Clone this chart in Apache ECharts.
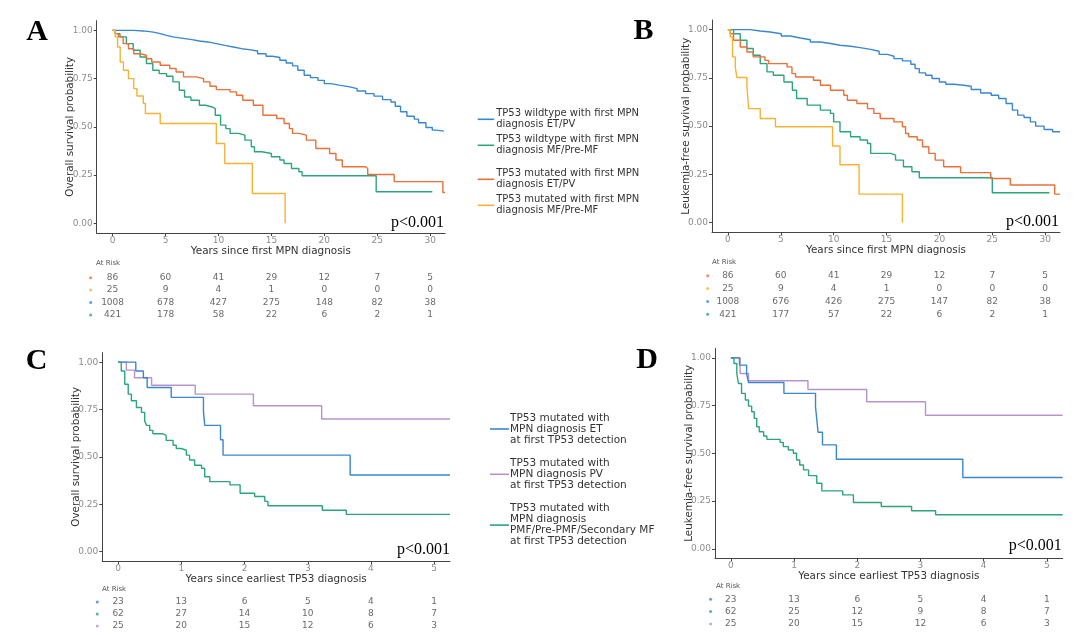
<!DOCTYPE html>
<html>
<head>
<meta charset="utf-8">
<title>TP53 survival</title>
<script src="https://cdn.jsdelivr.net/npm/echarts@6.0.0/dist/echarts.min.js"></script>
<style>
  html, body { margin: 0; padding: 0; background: #fff; }
  #chart { width: 1080px; height: 635px; }
</style>
</head>
<body>
<div id="chart"></div>
<script>
// 颜色
const BLUE = '#3a87cf', GREEN = '#2da57b', ORANGE = '#e8703a', YELLOW = '#f6b233', PURPLE = '#b793cc';
const SANS = 'DejaVu Sans';
const SERIF = 'Liberation Serif';

// 图例名称 (A/B)
const NAME_WT_ETPV = 'TP53 wildtype with first MPN\ndiagnosis ET/PV';
const NAME_WT_MF = 'TP53 wildtype with first MPN\ndiagnosis MF/Pre-MF';
const NAME_MUT_ETPV = 'TP53 mutated with first MPN\ndiagnosis ET/PV';
const NAME_MUT_MF = 'TP53 mutated with first MPN\ndiagnosis MF/Pre-MF';
// 图例名称 (C/D)
const NAME_ET = 'TP53 mutated with\nMPN diagnosis ET\nat first TP53 detection';
const NAME_PV = 'TP53 mutated with\nMPN diagnosis PV\nat first TP53 detection';
const NAME_MF = 'TP53 mutated with\nMPN diagnosis\nPMF/Pre-PMF/Secondary MF\nat first TP53 detection';

// 刻度
const yTicks = [0, 0.25, 0.5, 0.75, 1];
const xTicksAB = [0, 5, 10, 15, 20, 25, 30];
const xTicksCD = [0, 1, 2, 3, 4, 5];

// --- A: overall survival, first MPN diagnosis ---
const A_wtEtPv = [[0,1],[2,0.997],[2.9,0.991],[3.85,0.983],[4.5,0.974],[5.1,0.966],[5.7,0.96],[6.5,0.952],[7.5,0.945],[8.2,0.94],[9,0.931],[9.8,0.922],[10.6,0.914],[11.4,0.905],[12.2,0.9],[12.9,0.893],[13.7,0.879],[14.5,0.866],[15.1,0.859],[15.8,0.845],[16.4,0.831],[17,0.816],[17.5,0.793],[18.1,0.767],[18.7,0.755],[19.4,0.741],[20,0.724],[20.6,0.716],[21.4,0.707],[22.4,0.698],[23.1,0.686],[23.9,0.672],[24.7,0.659],[25.5,0.641],[26.3,0.629],[26.7,0.607],[27.2,0.578],[27.8,0.555],[28.5,0.54],[28.9,0.521],[29.6,0.497],[30.2,0.483],[30.6,0.478],[31.3,0.478]];
const A_wtMf = [[0,1],[0.25,0.983],[0.7,0.966],[1.3,0.931],[1.95,0.897],[2.6,0.862],[3.2,0.828],[3.8,0.793],[4.4,0.776],[5.1,0.762],[5.7,0.733],[6.3,0.69],[6.8,0.655],[7.4,0.638],[8.2,0.612],[8.8,0.603],[9.4,0.595],[9.7,0.56],[10.2,0.509],[10.7,0.491],[11.1,0.466],[11.9,0.457],[12.5,0.431],[13.1,0.397],[13.4,0.371],[14.1,0.362],[15,0.345],[15.8,0.328],[16.2,0.31],[16.9,0.284],[17.6,0.267],[17.9,0.247],[24.9,0.164],[30.2,0.164]];
const A_mutEtPv = [[0,1],[0.25,0.983],[0.55,0.966],[1,0.931],[1.5,0.905],[2,0.879],[2.6,0.871],[3.2,0.853],[3.7,0.836],[4.5,0.819],[5.4,0.802],[6,0.784],[6.7,0.759],[7.9,0.75],[8.6,0.733],[9.2,0.71],[9.8,0.693],[11.1,0.681],[11.7,0.664],[12.3,0.638],[13.3,0.612],[14.2,0.56],[15.5,0.543],[16.2,0.517],[16.7,0.491],[17,0.466],[17.6,0.457],[18.3,0.431],[19.2,0.388],[20.5,0.362],[21.1,0.328],[21.7,0.293],[23.9,0.284],[24.1,0.253],[26.6,0.216],[31.2,0.16],[31.4,0.16]];
const A_mutMf = [[0,1],[0.25,0.966],[0.47,0.914],[0.72,0.836],[1.03,0.793],[1.5,0.75],[2,0.698],[2.3,0.66],[2.9,0.621],[3.1,0.569],[4.5,0.517],[9.8,0.414],[10.6,0.31],[13.2,0.155],[16.3,0]];

// --- B: leukemia-free survival, first MPN diagnosis ---
const B_wtEtPv = [[0,1],[2.1,0.993],[3.06,0.988],[4,0.979],[5.05,0.967],[5.9,0.957],[6.85,0.948],[7.8,0.936],[8.75,0.928],[9.7,0.919],[10.6,0.914],[11.6,0.907],[12.5,0.898],[13.5,0.888],[14.3,0.872],[15.1,0.862],[15.7,0.85],[16.5,0.838],[17.3,0.821],[17.7,0.798],[18.1,0.776],[18.7,0.764],[19.3,0.747],[20,0.729],[20.6,0.717],[21.4,0.712],[22.3,0.707],[23,0.69],[23.9,0.672],[24.9,0.66],[25.6,0.643],[26.3,0.617],[26.9,0.583],[27.4,0.557],[28,0.545],[28.6,0.522],[29.1,0.5],[29.9,0.483],[30.7,0.471],[31.4,0.471]];
const B_wtMf = [[0,1],[0.54,0.979],[1.17,0.945],[1.8,0.902],[2.4,0.867],[3.06,0.824],[3.7,0.781],[4.3,0.764],[5.3,0.729],[6.1,0.686],[6.5,0.643],[7.5,0.609],[8.75,0.583],[9.7,0.566],[10,0.522],[10.6,0.471],[11.6,0.445],[12.5,0.428],[13.2,0.41],[13.5,0.359],[15.4,0.35],[15.85,0.324],[16.6,0.29],[17.4,0.264],[18.1,0.233],[25,0.155],[30.4,0.155]];
const B_mutEtPv = [[0,1],[0.22,0.979],[0.54,0.945],[1.17,0.91],[1.8,0.884],[2.4,0.859],[3.5,0.841],[3.85,0.824],[5.6,0.807],[6.06,0.772],[6.4,0.755],[8.1,0.738],[8.75,0.712],[9.7,0.686],[10.96,0.66],[11.3,0.634],[12.2,0.617],[13.2,0.591],[13.8,0.566],[14.4,0.54],[15.7,0.522],[16.5,0.497],[16.8,0.462],[17.1,0.445],[17.9,0.428],[18.4,0.393],[19,0.359],[19.6,0.324],[20.4,0.29],[22,0.259],[24.85,0.229],[26.7,0.195],[30.9,0.148],[31.4,0.148]];
const B_mutMf = [[0,1],[0.22,0.962],[0.44,0.859],[0.7,0.807],[0.85,0.752],[1.8,0.707],[1.96,0.591],[3.06,0.54],[4.5,0.497],[9.9,0.397],[10.6,0.3],[12.4,0.148],[16.5,0]];

// --- C: overall survival, earliest TP53 diagnosis ---
const C_et = [[0,1],[0.28,0.953],[0.4,0.918],[0.46,0.866],[0.84,0.814],[1.35,0.74],[1.37,0.666],[1.62,0.59],[1.66,0.509],[3.67,0.404],[5.25,0.404]];
const C_pv = [[0,1],[0.13,0.958],[0.26,0.918],[0.53,0.878],[1.22,0.831],[2.14,0.77],[3.22,0.7],[5.25,0.7]];
const C_mf = [[0,1],[0.05,0.953],[0.105,0.883],[0.16,0.831],[0.21,0.796],[0.29,0.761],[0.37,0.735],[0.42,0.69],[0.45,0.666],[0.5,0.64],[0.55,0.622],[0.71,0.613],[0.76,0.587],[0.87,0.561],[0.92,0.544],[1,0.535],[1.08,0.509],[1.13,0.483],[1.21,0.456],[1.32,0.44],[1.37,0.395],[1.45,0.369],[1.77,0.352],[1.93,0.308],[2.16,0.291],[2.32,0.265],[2.37,0.242],[3.23,0.218],[3.61,0.196],[5.25,0.196]];

// --- D: leukemia-free survival, earliest TP53 diagnosis ---
const D_et = [[0,1],[0.137,0.962],[0.25,0.918],[0.28,0.871],[0.84,0.814],[1.34,0.744],[1.36,0.678],[1.38,0.61],[1.45,0.544],[1.67,0.469],[3.67,0.373],[5.25,0.373]];
const D_pv = [[0,1],[0.147,0.918],[0.28,0.88],[1.22,0.834],[2.15,0.77],[3.08,0.699],[5.25,0.699]];
const D_mf = [[0,1],[0.05,0.97],[0.095,0.918],[0.12,0.866],[0.17,0.814],[0.23,0.779],[0.28,0.747],[0.33,0.718],[0.37,0.683],[0.41,0.639],[0.45,0.613],[0.52,0.591],[0.57,0.573],[0.78,0.557],[0.83,0.535],[0.91,0.517],[0.99,0.5],[1.04,0.465],[1.09,0.439],[1.15,0.413],[1.23,0.383],[1.36,0.343],[1.44,0.303],[1.77,0.282],[1.94,0.242],[2.38,0.221],[2.86,0.199],[3.24,0.178],[5.25,0.178]];

// At Risk 表
const riskA_mutEtPv = [86, 60, 41, 29, 12, 7, 5];
const riskA_mutMf = [25, 9, 4, 1, 0, 0, 0];
const riskA_wtEtPv = [1008, 678, 427, 275, 148, 82, 38];
const riskA_wtMf = [421, 178, 58, 22, 6, 2, 1];
const riskB_mutEtPv = [86, 60, 41, 29, 12, 7, 5];
const riskB_mutMf = [25, 9, 4, 1, 0, 0, 0];
const riskB_wtEtPv = [1008, 676, 426, 275, 147, 82, 38];
const riskB_wtMf = [421, 177, 57, 22, 6, 2, 1];
const riskC_et = [23, 13, 6, 5, 4, 1];
const riskC_mf = [62, 27, 14, 10, 8, 7];
const riskC_pv = [25, 20, 15, 12, 6, 3];
const riskD_et = [23, 13, 6, 5, 4, 1];
const riskD_mf = [62, 25, 12, 9, 8, 7];
const riskD_pv = [25, 20, 15, 12, 6, 3];

// 面板布局 (像素)
const panels = [
  { left: 96.7, top: 20.7, width: 348.3, height: 212.3, xmin: -1.5, xmax: 31.4, ticks: xTicksAB,
    ytitle: 'Overall survival probability', xtitle: 'Years since first MPN diagnosis',
    risk: { top: 271.5, height: 49.6 }, dotX: -2.07 },
  { left: 712, top: 20, width: 348, height: 212.3, xmin: -1.5, xmax: 31.4, ticks: xTicksAB,
    ytitle: 'Leukemia-free survival probability', xtitle: 'Years since first MPN diagnosis',
    risk: { top: 269.3, height: 51.5 }, dotX: -1.91 },
  { left: 102.3, top: 352.7, width: 347.7, height: 208.3, xmin: -0.25, xmax: 5.25, ticks: xTicksCD,
    ytitle: 'Overall survival probability', xtitle: 'Years since earliest TP53 diagnosis',
    risk: { top: 596, height: 36 }, dotX: -0.33 },
  { left: 715, top: 348.3, width: 347.7, height: 210, xmin: -0.25, xmax: 5.25, ticks: xTicksCD,
    ytitle: 'Leukemia-free survival probability', xtitle: 'Years since earliest TP53 diagnosis',
    risk: { top: 593.1, height: 37 }, dotX: -0.32 }
];

const curves = [
  [[NAME_WT_ETPV, A_wtEtPv, BLUE], [NAME_WT_MF, A_wtMf, GREEN], [NAME_MUT_ETPV, A_mutEtPv, ORANGE], [NAME_MUT_MF, A_mutMf, YELLOW]],
  [[NAME_WT_ETPV, B_wtEtPv, BLUE], [NAME_WT_MF, B_wtMf, GREEN], [NAME_MUT_ETPV, B_mutEtPv, ORANGE], [NAME_MUT_MF, B_mutMf, YELLOW]],
  [[NAME_PV, C_pv, PURPLE], [NAME_ET, C_et, BLUE], [NAME_MF, C_mf, GREEN]],
  [[NAME_PV, D_pv, PURPLE], [NAME_ET, D_et, BLUE], [NAME_MF, D_mf, GREEN]]
];

const riskTables = [
  [[riskA_mutEtPv, ORANGE], [riskA_mutMf, YELLOW], [riskA_wtEtPv, BLUE], [riskA_wtMf, GREEN]],
  [[riskB_mutEtPv, ORANGE], [riskB_mutMf, YELLOW], [riskB_wtEtPv, BLUE], [riskB_wtMf, GREEN]],
  [[riskC_et, BLUE], [riskC_mf, GREEN], [riskC_pv, PURPLE]],
  [[riskD_et, BLUE], [riskD_mf, GREEN], [riskD_pv, PURPLE]]
];

const grid = [], xAxis = [], yAxis = [], series = [];

panels.forEach((p, i) => {
  grid.push({ left: p.left, top: p.top, width: p.width, height: p.height });
  xAxis.push({
    gridIndex: i, type: 'value', min: p.xmin, max: p.xmax,
    name: p.xtitle, nameLocation: 'middle', nameGap: 11,
    nameTextStyle: { color: '#333', fontSize: 10.4, fontFamily: SANS },
    axisLine: { show: true, onZero: false, lineStyle: { color: '#444', width: 1 } },
    axisTick: { show: true, length: 3, customValues: p.ticks, lineStyle: { color: '#444' } },
    axisLabel: { customValues: p.ticks, color: '#8c8c8c', fontSize: 9, margin: 3, fontFamily: SANS },
    splitLine: { show: false }
  });
  yAxis.push({
    gridIndex: i, type: 'value', min: -0.05, max: 1.05,
    name: p.ytitle, nameLocation: 'middle', nameGap: 21, nameMoveOverlap: false,
    nameTextStyle: { color: '#333', fontSize: 10.4, fontFamily: SANS },
    axisLine: { show: true, onZero: false, lineStyle: { color: '#444', width: 1 } },
    axisTick: { show: true, length: 3, customValues: yTicks, lineStyle: { color: '#444' } },
    axisLabel: { customValues: yTicks, color: '#8c8c8c', fontSize: 9, margin: 4, fontFamily: SANS,
                 formatter: v => v.toFixed(2) },
    splitLine: { show: false }
  });
  curves[i].forEach(([name, data, color]) => {
    series.push({
      name, type: 'line', step: 'end', data, xAxisIndex: i, yAxisIndex: i,
      symbol: 'none', silent: true,
      lineStyle: { width: 1.4, color }, itemStyle: { color }
    });
  });
});

// At Risk 网格
panels.forEach((p, i) => {
  const gi = 4 + i;
  const rows = riskTables[i];
  grid.push({ left: p.left, top: p.risk.top, width: p.width, height: p.risk.height });
  xAxis.push({ gridIndex: gi, type: 'value', min: p.xmin, max: p.xmax, show: false });
  yAxis.push({ gridIndex: gi, type: 'value', min: -0.5, max: rows.length - 0.5, inverse: true, show: false });
  const numbers = [];
  const dots = [];
  rows.forEach(([vals, color], r) => {
    vals.forEach((n, k) => numbers.push([p.ticks[k], r, n]));
    dots.push({ value: [p.dotX, r], itemStyle: { color } });
  });
  series.push({
    name: 'risk' + i, type: 'scatter', xAxisIndex: gi, yAxisIndex: gi, silent: true,
    symbolSize: 1, itemStyle: { color: 'rgba(0,0,0,0)' }, data: numbers,
    label: { show: true, position: 'inside', formatter: d => String(d.value[2]),
             color: '#444', fontSize: 9, fontFamily: SANS }
  });
  series.push({
    name: 'riskdot' + i, type: 'scatter', xAxisIndex: gi, yAxisIndex: gi, silent: true,
    symbolSize: 3, clip: false, data: dots
  });
});

const legendTextAB = { color: '#333', fontSize: 10, lineHeight: 10.8, fontFamily: SANS, padding: [0, 0, 0, -3] };
const legendTextCD = { color: '#333', fontSize: 10.5, lineHeight: 11, fontFamily: SANS, padding: [0, 0, 0, -4] };
const legend = [
  { data: [NAME_WT_ETPV, NAME_WT_MF], orient: 'vertical', left: 477.7, top: 108.5, padding: 0,
    itemWidth: 16.5, itemHeight: 1.6, icon: 'rect', itemGap: 4.4, selectedMode: false, textStyle: legendTextAB },
  { data: [NAME_MUT_ETPV, NAME_MUT_MF], orient: 'vertical', left: 477.7, top: 168.5, padding: 0,
    itemWidth: 16.5, itemHeight: 1.6, icon: 'rect', itemGap: 4.4, selectedMode: false, textStyle: legendTextAB },
  { data: [NAME_ET, NAME_PV, NAME_MF], orient: 'vertical', left: 490, top: 412.5, padding: 0,
    itemWidth: 19, itemHeight: 1.6, icon: 'rect', itemGap: 12.3, selectedMode: false, textStyle: legendTextCD }
];

function txt(x, y, text, font, align, color) {
  return { type: 'text', x, y, silent: true,
           style: { text, font, fill: color || '#000', align: align || 'center', verticalAlign: 'middle' } };
}

const graphic = [
  txt(37, 32, 'A', 'bold 30px ' + SERIF),
  txt(643.5, 31.5, 'B', 'bold 30px ' + SERIF),
  txt(36.5, 361.5, 'C', 'bold 30px ' + SERIF),
  txt(647, 360.5, 'D', 'bold 30px ' + SERIF),
  txt(444, 222.5, 'p<0.001', '16px ' + SERIF, 'right'),
  txt(1059, 221.5, 'p<0.001', '16px ' + SERIF, 'right'),
  txt(450, 550, 'p<0.001', '16px ' + SERIF, 'right'),
  txt(1061.7, 546, 'p<0.001', '16px ' + SERIF, 'right'),
  txt(96, 263, 'At Risk', '7px ' + SANS, 'left', '#555'),
  txt(712, 262, 'At Risk', '7px ' + SANS, 'left', '#555'),
  txt(102, 589, 'At Risk', '7px ' + SANS, 'left', '#555'),
  txt(716, 586, 'At Risk', '7px ' + SANS, 'left', '#555')
];

const chart = echarts.init(document.getElementById('chart'));
chart.setOption({
  animation: false,
  backgroundColor: '#fff',
  grid, xAxis, yAxis, series, legend, graphic
});
</script>
</body>
</html>
